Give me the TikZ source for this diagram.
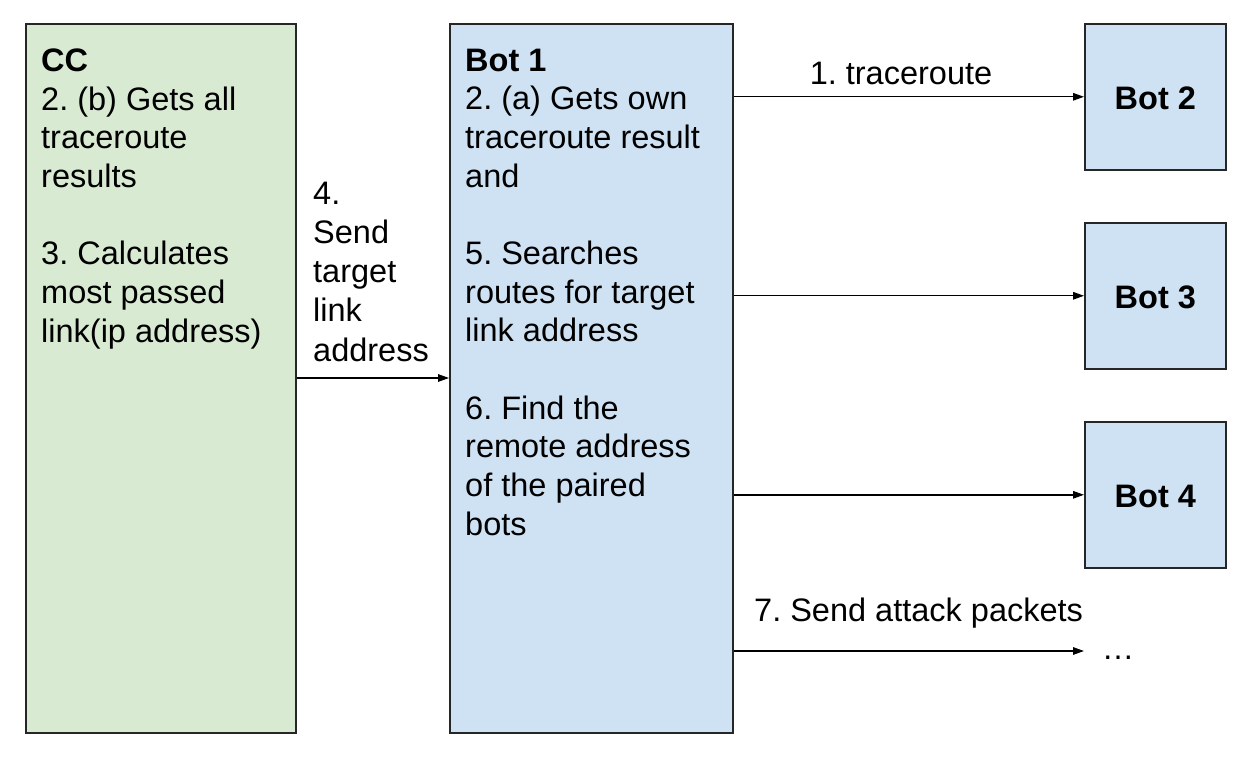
\documentclass[tikz,border=0pt]{standalone}
\usepackage{fontspec}
\setmainfont{Liberation Sans}
\frenchspacing
\usetikzlibrary{arrows.meta}
\definecolor{ccgreen}{HTML}{D9EAD3}
\definecolor{botblue}{HTML}{CFE2F3}
\definecolor{edge}{HTML}{262626}
\tikzset{
  box/.style={draw=edge, line width=1.6pt, inner sep=0pt},
  botbox/.style={box, fill=botblue, minimum width=141pt, minimum height=146pt, anchor=north west},
  botlabel/.style={font=\fontsize{32.5}{38.67}\selectfont\bfseries, inner sep=0pt},
  txt/.style={font=\fontsize{32.5}{38.67}\selectfont, inner sep=0pt, align=left, anchor=north west},
  lbl/.style={font=\fontsize{32.5}{38.67}\selectfont, inner sep=0pt},
  conn/.style={line width=1.4pt, -{Triangle[length=11pt,width=7.5pt]}}
}
\begin{document}
\begin{tikzpicture}[x=1pt,y=-1pt]
\useasboundingbox (0,0) rectangle (1258,759);
% boxes
\node[box, fill=ccgreen, minimum width=270pt, minimum height=709pt, anchor=north west] (cc) at (25,23) {};
\node[box, fill=botblue, minimum width=283pt, minimum height=709pt, anchor=north west] (bot1) at (449,23) {};
\node[botbox] (bot2) at (1084,23) {};
\node[botbox] (bot3) at (1084,222) {};
\node[botbox] (bot4) at (1084,421) {};
\node[botlabel] (bot2l) at ([yshift=-2pt]bot2.center) {Bot 2};
\node[botlabel] (bot3l) at ([yshift=-2pt]bot3.center) {Bot 3};
\node[botlabel] (bot4l) at ([yshift=-2pt]bot4.center) {Bot 4};
% texts
\node[txt] (cctext) at (41,48.5) {\textbf{CC}\\2. (b) Gets all\\traceroute\\results\\[38.67pt]3. Calculates\\most passed\\link(ip address)};
\node[txt] (bot1text) at (465,48.5) {\textbf{Bot 1}\\2. (a) Gets own\\traceroute result\\and\\[38.67pt]5. Searches\\routes for target\\link address\\[38.67pt]6. Find the\\remote address\\of the paired\\bots};
\node[txt, font=\fontsize{32.5}{39.3}\selectfont] (lbl4) at (313,181.5) {4.\\Send\\target\\link\\address};
\node[lbl] (lbl1) at (901,73) {1. traceroute};
\node[lbl, anchor=west] (lbl7) at (754,613) {7. Send attack packets};
\node[lbl] (dots) at (1118,658) {…};
\coordinate (dotsend) at (1084,651);
% connectors
\draw[conn] (cc.east |- {(0,378)}) -- (bot1.west |- {(0,378)});
\draw[conn] (bot1.east |- bot2.west) -- (bot2.west);
\draw[conn] (bot1.east |- bot3.west) -- (bot3.west);
\draw[conn] (bot1.east |- bot4.west) -- (bot4.west);
\draw[conn] (bot1.east |- dotsend) -- (dotsend);
\end{tikzpicture}
\end{document}
